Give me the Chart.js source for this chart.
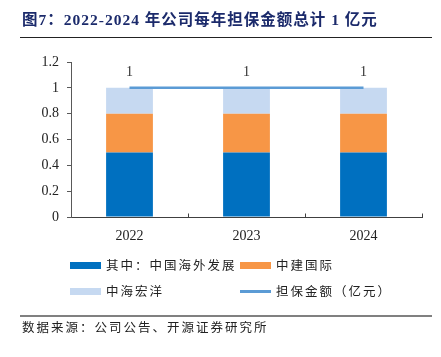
<!DOCTYPE html>
<html>
<head>
<meta charset="utf-8">
<script src="https://cdn.jsdelivr.net/npm/chart.js@4/dist/chart.umd.min.js"></script>
<style>
  html, body { margin:0; padding:0; background:#fff; }
  #wrap { position:relative; width:441px; height:357px; overflow:hidden; }
  #c { position:absolute; left:0; top:0; }
  .t { position:absolute; white-space:nowrap; }
  #title { left:22px; top:7px; font-family:"Liberation Serif","Noto Serif CJK SC","Noto Sans CJK SC",serif; font-weight:bold; font-size:15.5px; color:#1b2a6b; letter-spacing:1px; }
  #title .cjk { font-family:"Noto Sans CJK SC",sans-serif; }
  .hl { position:absolute; left:20px; width:412px; }
  .leg { font-family:"Noto Sans CJK SC",sans-serif; font-size:12.5px; color:#222; letter-spacing:2px; line-height:16px; }
  .sw { position:absolute; width:31px; height:7px; }
  .ln { position:absolute; width:31px; height:3px; }
  #src { left:22px; top:319px; font-family:"Noto Sans CJK SC",sans-serif; font-size:12.5px; color:#222; letter-spacing:2px; line-height:16px; }
</style>
</head>
<body>
<div id="wrap">
  <canvas id="c" width="441" height="357"></canvas>
  <div id="title" class="t"><span class="cjk">图</span>7<span class="cjk">：</span>2022-2024 <span class="cjk">年公司每年担保金额总计</span> 1 <span class="cjk">亿元</span></div>
  <div class="hl" style="top:37px;height:1px;background:#222;"></div>
  <div id="legend"></div>
  <div class="hl" style="top:315px;height:2px;background:#808080;"></div>
  <div id="src" class="t">数据来源：公司公告、开源证券研究所</div>
</div>
<script>
// ---- data ----
const categories = ['2022', '2023', '2024'];
const seriesNames = ['其中：中国海外发展', '中建国际', '中海宏洋', '担保金额（亿元）'];
const cohlValues = [0.5, 0.5, 0.5];       // 其中：中国海外发展
const cscecValues = [0.3, 0.3, 0.3];      // 中建国际
const cohlVisionValues = [0.2, 0.2, 0.2]; // 中海宏洋
const totalValues = [1, 1, 1];            // 担保金额（亿元）
const yTicks = [0, 0.2, 0.4, 0.6, 0.8, 1, 1.2];

const colors = ['#0070C0', '#F79646', '#C6D9F1', '#5B9BD5'];

// ---- legend (HTML) ----
const legendDefs = [
  {name: seriesNames[0], color: colors[0], type: 'box', x: 70, y: 262},
  {name: seriesNames[1], color: colors[1], type: 'box', x: 240, y: 262},
  {name: seriesNames[2], color: colors[2], type: 'box', x: 70, y: 288},
  {name: seriesNames[3], color: colors[3], type: 'line', x: 240, y: 288},
];
const legendEl = document.getElementById('legend');
legendDefs.forEach(d => {
  const m = document.createElement('div');
  if (d.type === 'box') {
    m.className = 'sw';
    m.style.left = d.x + 'px'; m.style.top = d.y + 'px';
  } else {
    m.className = 'ln';
    m.style.left = d.x + 'px'; m.style.top = (d.y + 2) + 'px';
  }
  m.style.background = d.color;
  legendEl.appendChild(m);
  const t = document.createElement('div');
  t.className = 't leg';
  t.textContent = d.name;
  t.style.left = (d.x + 36) + 'px';
  t.style.top = (d.y - 5) + 'px';
  legendEl.appendChild(t);
});

// ---- plugins ----
const innerTicks = {
  id: 'innerTicks',
  afterDraw(chart) {
    const x = chart.scales.x, y = chart.scales.y;
    const ctx = chart.ctx;
    const n = categories.length;
    const step = (x.getPixelForValue(1) - x.getPixelForValue(0));
    ctx.save();
    ctx.strokeStyle = '#404040';
    ctx.lineWidth = 1;
    const by = Math.round(y.getPixelForValue(0)) + 0.5;
    for (let i = 1; i <= n; i++) {
      const px = Math.round(x.getPixelForValue(i - 1) + step / 2) + 0.5;
      ctx.beginPath();
      ctx.moveTo(px, by);
      ctx.lineTo(px, by - 4);
      ctx.stroke();
    }
    ctx.restore();
  }
};
const pointLabels = {
  id: 'pointLabels',
  afterDatasetsDraw(chart) {
    const ctx = chart.ctx;
    const meta = chart.getDatasetMeta(3);
    ctx.save();
    ctx.font = '14px "Liberation Serif"';
    ctx.fillStyle = '#333';
    ctx.textAlign = 'center';
    ctx.textBaseline = 'middle';
    meta.data.forEach((pt, i) => {
      ctx.fillText(String(totalValues[i]), pt.x, pt.y - 16);
    });
    ctx.restore();
  }
};

new Chart(document.getElementById('c'), {
  type: 'bar',
  data: {
    labels: categories,
    datasets: [
      {label: seriesNames[0], data: cohlValues, backgroundColor: colors[0], stack: 's', order: 1},
      {label: seriesNames[1], data: cscecValues, backgroundColor: colors[1], stack: 's', order: 1},
      {label: seriesNames[2], data: cohlVisionValues, backgroundColor: colors[2], stack: 's', order: 1},
      {label: seriesNames[3], data: totalValues, type: 'line', borderColor: colors[3], backgroundColor: colors[3],
       borderWidth: 2.5, pointRadius: 0, fill: false, order: 0, stack: 'line'}
    ]
  },
  options: {
    responsive: false,
    animation: false,
    events: [],
    layout: { padding: { left: 0, right: 19, top: 62, bottom: 115 } },
    plugins: { legend: { display: false }, tooltip: { enabled: false } },
    datasets: { bar: { barPercentage: 1, categoryPercentage: 0.4 } },
    scales: {
      x: {
        stacked: true,
        offset: true,
        grid: { display: false, drawTicks: false },
        border: { display: true, color: '#404040', width: 1 },
        ticks: { color: '#222', font: { family: 'Liberation Serif', size: 14 }, padding: 11 },
        afterFit(s) { s.height = 25; }
      },
      y: {
        stacked: true,
        min: 0, max: 1.2,
        afterBuildTicks(s) { s.ticks = yTicks.map(v => ({value: v})); },
        grid: { drawOnChartArea: false, drawTicks: true, tickLength: 4, color: '#595959' },
        border: { display: true, color: '#595959', width: 1 },
        ticks: { color: '#222', font: { family: 'Liberation Serif', size: 14 }, padding: 8,
                 callback: v => String(parseFloat(Number(v).toFixed(1))) },
        afterFit(s) { s.width = 71; }
      }
    }
  },
  plugins: [innerTicks, pointLabels]
});
</script>
</body>
</html>
